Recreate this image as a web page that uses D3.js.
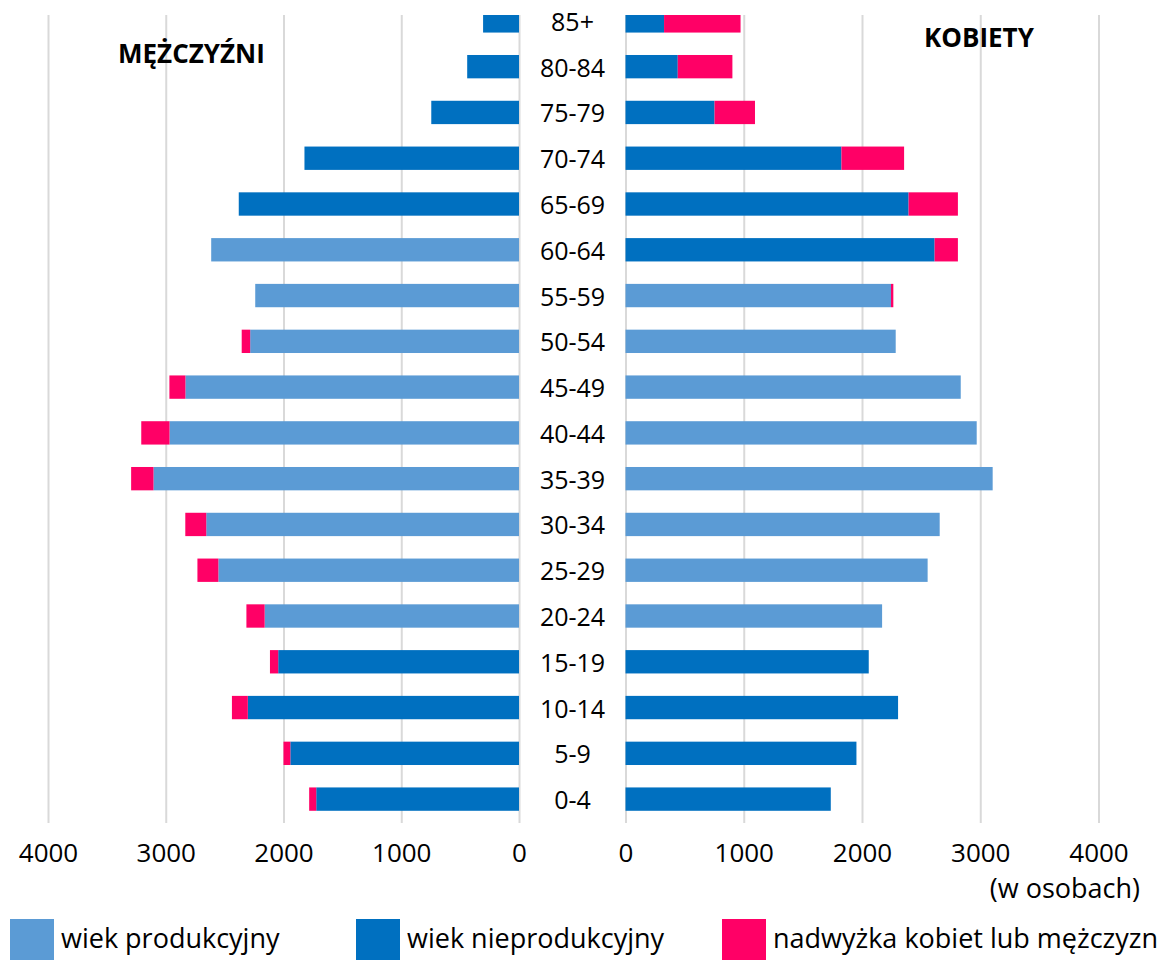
<!DOCTYPE html>
<html>
<head>
<meta charset="utf-8">
<script src="https://cdn.jsdelivr.net/npm/d3@7"></script>
<style>
  body { margin: 0; background: #fff; }
  svg { font-family: "Open Sans", sans-serif; }
  .grid line { stroke: #d9d9d9; stroke-width: 2; }
  .grid text { font-size: 26px; fill: #000; }
</style>
</head>
<body>
<div id="graph"></div>
<script>

const ageGroups = ["85+", "80-84", "75-79", "70-74", "65-69", "60-64", "55-59", "50-54", "45-49",
                   "40-44", "35-39", "30-34", "25-29", "20-24", "15-19", "10-14", "5-9", "0-4"];

// mezczyzni
const menProd    = [0, 0, 0, 0, 0, 2614, 2240, 2283, 2833, 2968, 3104, 2656, 2553, 2160, 0, 0, 0, 0];
const menNonProd = [305, 440, 745, 1822, 2380, 0, 0, 0, 0, 0, 0, 0, 0, 0, 2045, 2303, 1942, 1722];
const menSurplus = [0, 0, 0, 0, 0, 0, 0, 72, 136, 240, 190, 178, 178, 155, 70, 135, 58, 60];

// kobiety
const womenProd    = [0, 0, 0, 0, 0, 0, 2245, 2285, 2835, 2970, 3105, 2657, 2555, 2170, 0, 0, 0, 0];
const womenNonProd = [326, 442, 753, 1826, 2394, 2614, 0, 0, 0, 0, 0, 0, 0, 0, 2057, 2305, 1953, 1736];
const womenSurplus = [647, 462, 342, 530, 417, 197, 20, 0, 0, 0, 0, 0, 0, 0, 0, 0, 0, 0];

const axisTicks = [0, 1000, 2000, 3000, 4000];
const legendLabels = ["wiek produkcyjny", "wiek nieprodukcyjny", "nadwyżka kobiet lub mężczyzn"];
const keys = ["prod", "nonprod", "surplus"];
const colors = { prod: "#5b9bd5", nonprod: "#0070c0", surplus: "#ff0066" };

let width = 1162, height = 960;
let plotTop = 15, plotBottom = 823;

let svg = d3.select("#graph")
      .append("svg")
      .attr("width", width)
      .attr("height", height);

let y = d3.scaleBand()
      .domain(ageGroups)
      .range([-2, 822])
      .paddingInner(0.49)
      .paddingOuter(0.245);

let xLeft = d3.scaleLinear().domain([0, 4000]).range([519, 48]),
    xRight = d3.scaleLinear().domain([0, 4000]).range([625.5, 1098.5]);

svg.append("defs").append("clipPath")
      .attr("id", "clip")
      .append("rect")
      .attr("x", 0)
      .attr("y", plotTop)
      .attr("width", width)
      .attr("height", plotBottom - plotTop);

// gridlines + tick labels
[xLeft, xRight].forEach(function(sc) {
  svg.append("g")
      .attr("class", "grid")
      .attr("transform", "translate(0," + plotBottom + ")")
      .call(d3.axisBottom(sc).tickValues(axisTicks).tickFormat(d3.format("d"))
            .tickSize(-(plotBottom - plotTop)).tickPadding(21))
      .call(g => g.select(".domain").remove())
      .call(g => g.selectAll("text").attr("font-family", "Open Sans"));
});

function tableFor(prod, nonprod, surplus) {
  return ageGroups.map((a, i) => ({ age: a, prod: prod[i], nonprod: nonprod[i], surplus: surplus[i] }));
}

let stack = d3.stack().keys(keys);
let menSeries = stack(tableFor(menProd, menNonProd, menSurplus)),
    womenSeries = stack(tableFor(womenProd, womenNonProd, womenSurplus));

let bars = svg.append("g").attr("clip-path", "url(#clip)");

function drawSide(series, sc, left) {
  bars.selectAll(null)
      .data(series)
      .join("g")
      .attr("fill", d => colors[d.key])
      .selectAll("rect")
      .data(d => d.filter(s => s[1] > s[0]))
      .join("rect")
      .attr("y", d => y(d.data.age))
      .attr("height", y.bandwidth())
      .attr("x", d => left ? sc(d[1]) : sc(d[0]))
      .attr("width", d => Math.abs(sc(d[1]) - sc(d[0])));
}

drawSide(menSeries, xLeft, true);
drawSide(womenSeries, xRight, false);

// age labels
svg.append("g")
      .selectAll("text")
      .data(ageGroups)
      .join("text")
      .attr("x", 572.5)
      .attr("y", d => y(d) + y.bandwidth() / 2 + 10)
      .attr("text-anchor", "middle")
      .attr("font-size", 25)
      .text(d => d);

svg.append("text")
      .attr("x", 118).attr("y", 63)
      .attr("font-size", 26).attr("font-weight", "bold")
      .text("MĘŻCZYŹNI");

svg.append("text")
      .attr("x", 924).attr("y", 47)
      .attr("font-size", 26).attr("font-weight", "bold")
      .text("KOBIETY");

svg.append("text")
      .attr("x", 1140).attr("y", 898)
      .attr("text-anchor", "end")
      .attr("font-size", 27)
      .text("(w osobach)");

// legend
let legendX = [10, 356, 722];
let legend = svg.append("g")
      .selectAll("g")
      .data(keys)
      .join("g")
      .attr("transform", (d, i) => "translate(" + legendX[i] + ",919)");

legend.append("rect")
      .attr("width", 44)
      .attr("height", 44)
      .attr("fill", d => colors[d]);

legend.append("text")
      .attr("x", 51)
      .attr("y", 29)
      .attr("font-size", 27)
      .text((d, i) => legendLabels[i]);

</script>
</body>
</html>
